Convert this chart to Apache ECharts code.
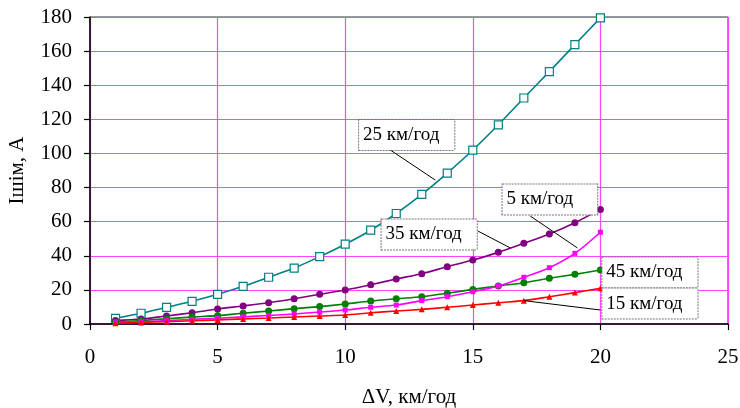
<!DOCTYPE html>
<html><head><meta charset="utf-8">
<script src="https://cdn.jsdelivr.net/npm/echarts@6/dist/echarts.min.js"></script>
<style>html,body{margin:0;padding:0;background:#fff}#c{width:740px;height:408px}</style>
</head><body><div id="c"></div>
<script>
const xValues = [1,2,3,4,5,6,7,8,9,10,11,12,13,14,15,16,17,18,19,20];
const s25 = [3.3,6.3,9.8,13.3,17.4,22.1,27.4,32.8,39.5,46.8,55,64.8,76,88.5,102,116.8,132.5,148,163.8,179.5];
const s35 = [2,2.9,4.7,6.6,8.8,10.6,12.5,14.8,17.4,19.9,23,26.4,29.5,33.6,37.5,42,47.3,52.8,59.4,67.2];
const s45 = [1.2,2,3.1,4.1,4.9,6.3,7.6,9,10.2,11.7,13.5,14.8,16,18,20.3,22.3,24.2,26.8,29.1,31.7];
const s5  = [0.8,1.3,2,2.7,3.4,4.2,5,5.9,7,8.2,9.8,11.1,13.7,16,18.9,22.3,27.4,33,41.4,53.8];
const s15 = [0.4,0.9,1.4,1.9,2.4,3,3.5,4.1,4.7,5.3,6.6,7.6,8.6,9.8,11.1,12.5,13.7,16,18.4,20.9];
const xTicks = [0,5,10,15,20,25];
const yTicks = [0,20,40,60,80,100,120,140,160,180];

const FONT = 'Liberation Serif';
function pairs(ys){ return xValues.map((x,i)=>[x, ys[i]]); }
function boxLabel(text, coord, padRight){
  return { coord: coord, value: text, symbol: 'rect', symbolSize: [1,1],
    itemStyle: {color: 'rgba(0,0,0,0)'},
    label: { show: true, position: 'inside', formatter: text, color: '#000',
      fontFamily: FONT, fontSize: 19, backgroundColor: '#fff',
      borderColor: '#777', borderWidth: 1, borderType: [2,1], padding: [6, padRight, 5, 4] } };
}
function leader(a, b){ return [{coord: a}, {coord: b}]; }
function mkSeries(name, ys, color, symbol, size, hollow, labels, lines){
  return {
    name: name, type: 'line', data: pairs(ys), smooth: 0.3,
    symbol: symbol, symbolSize: size, showAllSymbol: true,
    lineStyle: {color: color, width: 1.6},
    itemStyle: {color: hollow ? '#fff' : color, borderColor: color, borderWidth: hollow ? 1.2 : 0},
    z: 3,
    markLine: { silent: true, symbol: 'none', animation: false, z: 4,
      lineStyle: {color: '#000', width: 1, type: 'solid'}, label: {show: false},
      data: lines },
    markPoint: { silent: true, animation: false, z: 5, data: labels }
  };
}
const chart = echarts.init(document.getElementById('c'));
chart.setOption({
  animation: false,
  grid: {left: 90, right: 12, top: 17, bottom: 84, containLabel: false, outerBoundsMode: 'none',
    show: true, borderColor: '#333', borderWidth: 1},
  xAxis: {
    type: 'value', min: 0, max: 25, interval: 5,
    name: 'ΔV, км/год', nameLocation: 'middle', nameGap: 63,
    nameTextStyle: {fontFamily: FONT, fontSize: 21, color: '#000'},
    axisLine: {show: true, lineStyle: {color: '#000', width: 1.5}},
    axisTick: {show: true, length: 6, lineStyle: {color: '#000', width: 1.2}},
    axisLabel: {fontFamily: FONT, fontSize: 21, color: '#000', margin: 23,
      formatter: v => xTicks.includes(v) ? String(v) : ''},
    splitLine: {show: true, lineStyle: {color: '#ff44ff', width: 1.2}}
  },
  yAxis: {
    type: 'value', min: 0, max: 180, interval: 20,
    name: 'Ішім, А', nameLocation: 'middle', nameGap: 62,
    nameTextStyle: {fontFamily: FONT, fontSize: 21, color: '#000'},
    axisLine: {show: true, lineStyle: {color: '#000', width: 1.5}},
    axisTick: {show: true, length: 6, lineStyle: {color: '#000', width: 1.2}},
    axisLabel: {fontFamily: FONT, fontSize: 21, color: '#000', margin: 18,
      formatter: v => yTicks.includes(v) ? String(v) : ''},
    splitLine: {show: true, lineStyle: {color: '#ff44ff', width: 1.2}}
  },
  series: [
    mkSeries('25 км/год', s25, '#008080', 'rect', 8, true,
      [boxLabel('25 км/год', [12.41, 110.8], 15)], [leader([11.65, 103.2], [13.53, 84.4])]),
    mkSeries('35 км/год', s35, '#800080', 'circle', 7, false,
      [boxLabel('35 км/год', [13.29, 52.5], 15)], [leader([15.2, 54.5], [16.47, 44.6])]),
    mkSeries('45 км/год', s45, '#008000', 'circle', 7, false,
      [boxLabel('45 км/год', [21.94, 30.2], 15)], []),
    mkSeries('5 км/год', s5, '#ff00ff', 'rect', 5, false,
      [boxLabel('5 км/год', [18.02, 73], 24)], [leader([17.25, 63.3], [19.1, 44.6])]),
    mkSeries('15 км/год', s15, '#ff0000', 'triangle', 6, false,
      [boxLabel('15 км/год', [21.94, 12], 15)], [leader([20, 8.2], [17, 13.7])])
  ]
});
</script></body></html>
